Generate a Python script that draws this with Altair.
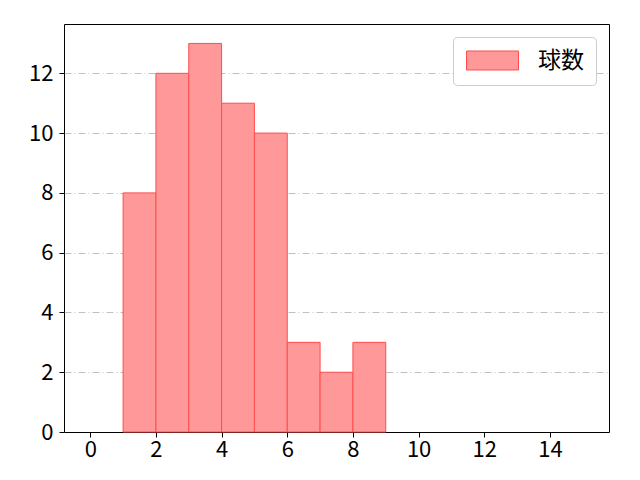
import altair as alt
import pandas as pd

bin_left = [1, 2, 3, 4, 5, 6, 7, 8]
bin_right = [2, 3, 4, 5, 6, 7, 8, 9]
counts = [8, 12, 13, 11, 10, 3, 2, 3]
series = ["球数"] * len(counts)
x_ticks = [0, 2, 4, 6, 8, 10, 12, 14]
y_ticks = [0, 2, 4, 6, 8, 10, 12]

df = pd.DataFrame({"x": bin_left, "x2": bin_right, "count": counts, "series": series})

FONT = "Noto Sans CJK JP"

chart = alt.Chart(df).mark_rect(
    stroke="#ff4d4d", strokeWidth=1, opacity=1
).encode(
    x=alt.X("x:Q", scale=alt.Scale(domain=[-0.8, 15.8], nice=False, zero=False),
            axis=alt.Axis(values=x_ticks, title=None, grid=False, domain=False,
                          tickColor="black", tickSize=5, labelColor="black",
                          labelFontSize=22, labelFont=FONT, labelPadding=2,
                          labelFlush=False)),
    x2="x2:Q",
    y=alt.Y("count:Q", scale=alt.Scale(domain=[0, 13.65], nice=False),
            axis=alt.Axis(values=y_ticks, title=None, grid=True, domain=False,
                          gridColor="#b0b0b0", gridDash=[7, 3, 1, 3], gridWidth=0.8,
                          gridOpacity={"condition": {"test": "datum.value === 0", "value": 0}, "value": 1},
                          tickColor="black", tickSize=5, labelColor="black",
                          labelFontSize=22, labelFont=FONT, labelPadding=6,
                          labelFlush=False)),
    y2=alt.datum(0),
    color=alt.Color("series:N", scale=alt.Scale(range=["#ff9999"]),
                    legend=alt.Legend(
                        title=None, orient="top-right", offset=13,
                        strokeColor="#cccccc", cornerRadius=4, fillColor="white",
                        padding=12,
                        symbolType="M-1,-0.95L4.2,-0.95L4.2,0.95L-1,0.95Z",
                        symbolSize=400, symbolStrokeColor="#ff4d4d",
                        symbolStrokeWidth=1, symbolFillColor="#ff9999",
                        symbolOpacity=1,
                        labelFontSize=23, labelFont=FONT, labelColor="black",
                        labelOffset=50)),
).properties(
    width=545, height=408,
    autosize=alt.AutoSizeParams(type="none"),
    padding={"left": 56, "top": 16, "right": 23, "bottom": 40},
).configure_view(
    stroke="black", strokeWidth=1
)

chart.save("out.html", embed_options={"renderer": "svg", "actions": False})
